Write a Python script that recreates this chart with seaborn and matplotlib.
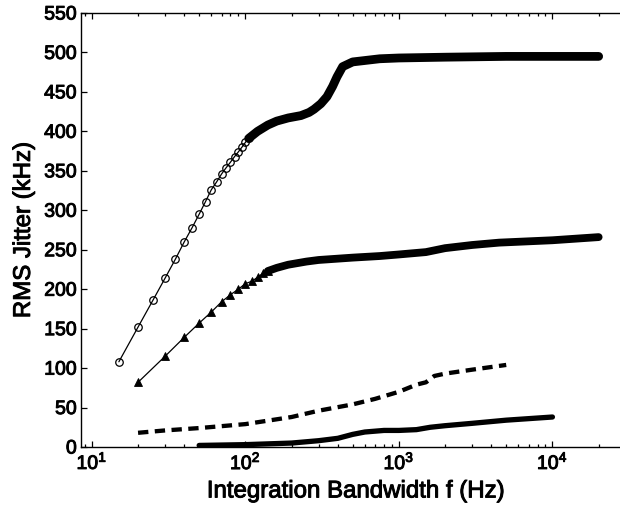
import matplotlib
matplotlib.use("Agg")
import matplotlib.pyplot as plt
import matplotlib.ticker as mticker
import matplotlib.patheffects as pe
import seaborn as sns
import pandas as pd
import numpy as np

# ---------------- data ----------------
# Series 1 (open circles): sparse marker part, then dense band part
circ_f = [15, 20, 25, 30, 35, 40, 45, 50, 55, 60, 65, 70, 75, 80, 85, 90, 95, 100, 105]
circ_v = [108, 152, 186, 214, 238, 260, 278, 295, 311, 326, 336, 346, 354, 361, 368, 374, 380, 386, 391]
circ_band_f = [105, 120, 140, 160, 190, 230, 260, 280, 310, 340, 370, 395, 430, 500, 750,
               1000, 2000, 5000, 10000, 20000]
circ_band_v = [391, 400, 408, 413, 417, 420, 424, 428, 435, 444, 457, 469, 482, 488, 492,
               493, 494, 495, 495, 495]

# Series 2 (filled triangles)
tri_f = [20, 30, 40, 50, 60, 70, 80, 90, 100, 110, 120, 130, 140]
tri_v = [82, 115, 139, 157, 171, 184, 193, 200, 207, 210, 215, 220, 223]
tri_band_f = [140, 160, 190, 250, 300, 500, 750, 1000, 1500, 2000, 3000, 4500, 10000, 20000]
tri_band_v = [223, 227, 231, 235, 237, 240, 242, 244, 247, 252, 256, 259, 262, 266]

# Series 3 (dashed)
dash_f = [20, 30, 50, 100, 200, 300, 500, 700, 1000, 1300, 1500, 1700, 2000, 3000, 5000]
dash_v = [18, 21, 24, 29, 38, 46, 54, 61, 70, 79, 82, 90, 93, 98, 104]

# Series 4 (thick solid)
solid_f = [50, 100, 200, 300, 400, 500, 600, 800, 1000, 1300, 1600, 2000, 3000, 5000, 10000]
solid_v = [2, 3, 5, 8, 11, 16, 19, 21, 21, 22, 25, 27, 30, 34, 38]

y_ticks = [0, 50, 100, 150, 200, 250, 300, 350, 400, 450, 500, 550]
x_label = "Integration Bandwidth f (Hz)"
y_label = "RMS Jitter (kHz)"

# ---------------- style ----------------
sns.set_theme(style="ticks")
plt.rcParams["font.family"] = ["Liberation Sans", "DejaVu Sans"]
plt.rcParams["mathtext.fontset"] = "custom"
plt.rcParams["mathtext.rm"] = "Liberation Sans"
plt.rcParams["mathtext.it"] = "Liberation Sans"
plt.rcParams["mathtext.default"] = "regular"

fig = plt.figure(figsize=(6.2, 5.08), dpi=100)
ax = fig.add_axes([81 / 620, 61 / 508, (630 - 81) / 620, 434 / 508])

def frame(f, v):
    return pd.DataFrame({"f": f, "v": v})

# circles
sns.lineplot(data=frame(circ_f, circ_v), x="f", y="v", ax=ax, estimator=None, sort=False,
             color="black", linewidth=0.9, marker="o", markersize=5.4,
             markerfacecolor="none", markeredgecolor="black", markeredgewidth=0.9)
sns.lineplot(data=frame(circ_band_f, circ_band_v), x="f", y="v", ax=ax, estimator=None,
             sort=False, color="black", linewidth=6.3, solid_capstyle="round",
             solid_joinstyle="round")

# triangles
sns.lineplot(data=frame(tri_f, tri_v), x="f", y="v", ax=ax, estimator=None, sort=False,
             color="black", linewidth=0.9, marker="^", markersize=5.5,
             markerfacecolor="black", markeredgecolor="black", markeredgewidth=0.6)
sns.lineplot(data=frame(tri_band_f, tri_band_v), x="f", y="v", ax=ax, estimator=None,
             sort=False, color="black", linewidth=5.6, solid_capstyle="round",
             solid_joinstyle="round")

# dashed
sns.lineplot(data=frame(dash_f, dash_v), x="f", y="v", ax=ax, estimator=None, sort=False,
             color="black", linewidth=3.1, linestyle=(0, (2.4, 1.5)))

# thick solid
sns.lineplot(data=frame(solid_f, solid_v), x="f", y="v", ax=ax, estimator=None, sort=False,
             color="black", linewidth=3.8, solid_capstyle="round", solid_joinstyle="round")

ax.set_xscale("log")
ax.set_xlim(8.5, 32000)
ax.set_ylim(0, 550)
ax.set_yticks(y_ticks)
ax.xaxis.set_major_locator(mticker.LogLocator(base=10, numticks=10))
ax.xaxis.set_minor_locator(mticker.LogLocator(base=10, subs=np.arange(2, 10), numticks=20))
ax.xaxis.set_minor_formatter(mticker.NullFormatter())

for s in ax.spines.values():
    s.set_color("black")
    s.set_linewidth(1.0)

ax.tick_params(which="both", direction="in", top=True, right=True, colors="black",
               labelsize=14, width=0.9)
ax.tick_params(which="major", length=4.5, pad=3)
ax.tick_params(which="minor", length=2.3)

ax.set_xlabel(x_label, fontsize=17.3, color="black")
ax.set_ylabel(y_label, fontsize=17.3, color="black")
ax.xaxis.set_label_coords(0.5, -0.077)
ax.yaxis.set_label_coords(-0.084, 0.5)

heavy = [pe.withStroke(linewidth=0.7, foreground="black")]
for t in ax.get_xticklabels() + ax.get_yticklabels():
    t.set_path_effects(heavy)
ax.xaxis.label.set_path_effects(heavy)
ax.yaxis.label.set_path_effects(heavy)

fig.savefig("out.png", dpi=100, facecolor="white")
